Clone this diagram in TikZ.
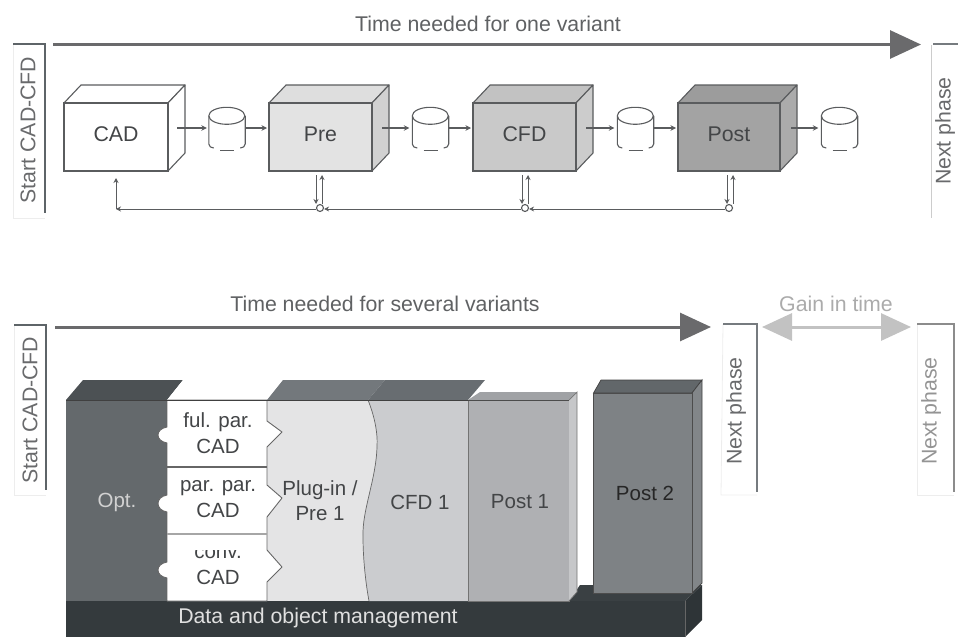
\documentclass[tikz,border=0pt]{standalone}
\usepackage{fontspec}
\setmainfont{Liberation Sans}
\usetikzlibrary{arrows.meta}
\definecolor{txt}{HTML}{434547}
\definecolor{bracket}{HTML}{5E6468}
\definecolor{headgray}{HTML}{6A6A6C}
\definecolor{faint}{HTML}{EDEDED}
\definecolor{edge}{HTML}{5A5C5E}
\tikzset{
  lbl/.style={font=\fontsize{21.3}{24}\selectfont,text=txt,inner sep=0pt,align=center},
  blk/.style={lbl,font=\fontsize{20.5}{24}\selectfont},
  front/.style={draw=edge,line width=1.3pt,minimum height=68pt,inner sep=0pt,lbl},
  face/.style={draw=edge,line width=1.1pt,line join=round},
  flow/.style={draw=edge,line width=1.2pt,-{Stealth[length=5.5pt,width=5.5pt]}},
  back/.style={draw=edge,line width=1pt,-{Stealth[length=5pt,width=5pt]}},
  dot/.style={circle,draw=edge,line width=1.1pt,fill=white,minimum size=7pt,inner sep=0pt},
  cylnode/.style={minimum width=36pt,minimum height=42pt,inner sep=0pt},
  cylline/.style={edge,line width=1.1pt},
  big/.style={line width=3pt,-{Triangle[length=31pt,width=28pt]}}
}
\newcommand{\cylshape}[2]{%
  \node[cylnode] (#1) at (#2,129) {};
  \draw[cylline] ([yshift=-8pt]#1.north west) arc[start angle=180,end angle=-180,x radius=18pt,y radius=8.5pt];
  \draw[cylline] ([yshift=-8pt]#1.north west) -- (#1.west |- 0,144) to[out=-90,in=180] ([xshift=5pt]#1.west |- 0,148);
  \draw[cylline] ([yshift=-8pt]#1.north east) -- (#1.east |- 0,144) to[out=-90,in=0] ([xshift=-5pt]#1.east |- 0,148);
  \draw[cylline] ([xshift=-7pt]#1.south) -- ([xshift=7pt]#1.south);
}
\newcommand{\boxshape}[7]{% name, x-left, x-right, label, front, top, side
  \path[face,fill=#6] (#2,103) -- (#2+17,85) -- (#3+17,85) -- (#3,103) -- cycle;
  \path[face,fill=#7] (#3,103) -- (#3+17,85) -- (#3+17,153) -- (#3,171) -- cycle;
  \node[front,fill=#5,minimum width=#3pt-#2pt] (#1) at ({(#2+#3)/2},137) {\raisebox{5pt}{\vphantom{Cp}#4}};
}
\begin{document}
\begin{tikzpicture}[x=1pt,y=-1pt]
\useasboundingbox (0,0) rectangle (958,637);

% ---------- upper part ----------
\node[lbl,text=txt!85] (t1) at (488,24) {Time needed for one variant};
\coordinate (a1s) at (53,44.5);
\coordinate (a1e) at (921,44.5);
\draw[big,draw=bracket!85!black,color=headgray] (a1s) -- (a1e);

\coordinate (s1a) at (13,44);
\coordinate (s1b) at (45,44);
\coordinate (s1c) at (45,213);
\coordinate (s1d) at (45,218);
\coordinate (s1e) at (13,218);
\draw[faint,line width=.8pt] (s1a) -- (s1e) -- (s1d);
\draw[bracket,line width=2.2pt] (s1a) -- (s1b) -- (s1c);
\node[lbl,rotate=90,text=txt!80] (s1t) at (28,130) {Start CAD-CFD};

\coordinate (n1a) at (933,44);
\coordinate (n1b) at (958,44);
\coordinate (n1c) at (931,45);
\coordinate (n1d) at (931,218);
\draw[bracket!85,line width=2pt] (n1a) -- (n1b);
\draw[black!20,line width=.8pt] (n1c) -- (n1d);
\node[lbl,rotate=90,text=txt!80] (n1t) at (945,131) {Next phase};

\boxshape{cad}{64}{168}{CAD}{white}{white}{white}
\boxshape{pre}{269}{372}{Pre}{black!11}{black!13}{black!18}
\boxshape{cfd}{473}{576}{CFD}{black!21}{black!24}{black!20}
\boxshape{post}{678}{780}{Post}{black!36}{black!39}{black!33}

\cylshape{c1}{227}
\cylshape{c2}{430.5}
\cylshape{c3}{635.5}
\cylshape{c4}{839.5}

\coordinate (o1) at (177,128);
\coordinate (o2) at (382,128);
\coordinate (o3) at (586,128);
\coordinate (o4) at (791,128);
\coordinate (i2) at (267,128);
\coordinate (i3) at (471,128);
\coordinate (i4) at (676,128);
\draw[flow,shorten >=2pt] (o1) -- (c1.west |- o1);
\draw[flow] (c1.east |- o1) -- (i2);
\draw[flow,shorten >=3pt] (o2) -- (c2.west |- o2);
\draw[flow] (c2.east |- o2) -- (i3);
\draw[flow,shorten >=3pt] (o3) -- (c3.west |- o3);
\draw[flow] (c3.east |- o3) -- (i4);
\draw[flow,shorten >=3pt] (o4) -- (c4.west |- o4);

% feedback
\node[dot] (d1) at (320,208) {};
\node[dot] (d2) at (525,208) {};
\node[dot] (d3) at (729,208) {};
\coordinate (fb) at (116,209);
\coordinate (fbu) at (116,178);
\draw[back] (d1.west |- fb) -- (fb);
\draw[back] (fb) -- (fbu);
\draw[back] (d2.west |- fb) -- (d1.east |- fb);
\draw[back] (d3.west |- fb) -- (d2.east |- fb);
\foreach \d/\xa/\xb in {d1/316/322,d2/522/528,d3/727/733}{
  \coordinate (top\d a) at (\xa,175);
  \coordinate (bot\d a) at (\xa,204);
  \coordinate (top\d b) at (\xb,175);
  \coordinate (bot\d b) at (\xb,204);
  \draw[back] (top\d a) -- (bot\d a);
  \draw[back] (bot\d b) -- (top\d b);
}

% ---------- lower part ----------
\node[lbl,text=txt!85] (t2) at (385,304) {Time needed for several variants};
\coordinate (a2s) at (55,327);
\coordinate (a2e) at (711,327);
\draw[big,draw=bracket!85!black,color=headgray] (a2s) -- (a2e);

\coordinate (s2a) at (14,325);
\coordinate (s2b) at (46,325);
\coordinate (s2c) at (46,490);
\coordinate (s2d) at (46,495);
\coordinate (s2e) at (14,495);
\draw[faint,line width=.8pt] (s2a) -- (s2e) -- (s2d);
\draw[bracket,line width=2.2pt] (s2a) -- (s2b) -- (s2c);
\node[lbl,rotate=90,text=txt!80] (s2t) at (30,410) {Start CAD-CFD};

\coordinate (n2a) at (723,324);
\coordinate (n2b) at (757,324);
\coordinate (n2c) at (757,492);
\coordinate (n2d) at (757,495);
\coordinate (n2e) at (721,495);
\draw[faint,line width=.8pt] (n2a) -- (n2e) -- (n2d);
\draw[bracket!85,line width=2.2pt] (n2a) -- (n2b) -- (n2c);
\node[lbl,rotate=90,text=txt!80] (n2t) at (736,411) {Next phase};

\node[lbl,text=black!33] (g) at (836,304) {Gain in time};
\coordinate (g1) at (762,327);
\coordinate (g2) at (911,327);
\draw[line width=3pt,draw=black!22,color=black!24,{Triangle[length=30pt,width=27pt]}-{Triangle[length=30pt,width=27pt]}] (g1) -- (g2);

\coordinate (n3a) at (917,324);
\coordinate (n3b) at (954,324);
\coordinate (n3c) at (954,492);
\coordinate (n3d) at (954,495);
\coordinate (n3e) at (917,495);
\draw[faint,line width=.8pt] (n3a) -- (n3e) -- (n3d);
\draw[black!45,line width=2.2pt] (n3a) -- (n3b) -- (n3c);
\node[lbl,rotate=90,text=black!42] (n3t) at (931,411) {Next phase};

% base
\fill[fill={rgb,255:red,58;green,64;blue,67}] (569,601) -- (580,585) -- (702,585) -- (685,601) -- cycle;
\fill[fill={rgb,255:red,46;green,52;blue,55}] (685,601) -- (702,585) -- (702,620) -- (685,637) -- cycle;
\fill[fill={rgb,255:red,52;green,58;blue,61}] (66,601) rectangle (685,637);
\draw[black!60,line width=.7pt] (685,601) -- (685,637);
\node[lbl,text=black!12] (dm) at (318,618) {Data and object management};

% Post 2
\path[fill={rgb,255:red,98;green,103;blue,106},draw=black!75,line width=.7pt] (593.5,393) -- (601,380) -- (702,380) -- (692,393) -- cycle;
\path[fill={rgb,255:red,130;green,134;blue,137},draw=black!75,line width=.7pt] (692,393) -- (702,380) -- (702,583) -- (692,593) -- cycle;
\node[draw=black!70,line width=1pt,fill={rgb,255:red,126;green,130;blue,133},minimum width=98.5pt,minimum height=200pt,inner sep=0pt] (p2) at (642.75,493) {};
\node[blk,text=black!85] (p2t) at (645,493) {Post 2};

% top faces
\fill[fill={rgb,255:red,76;green,81;blue,84}] (66,400) -- (83,380) -- (183,380) -- (167,400) -- cycle;
\fill[white] (167,400) -- (183,380) -- (283,380) -- (267,400) -- cycle;
\fill[fill={rgb,255:red,115;green,120;blue,124}] (267,400) -- (283,380) -- (385,380) -- (368,400) -- cycle;
\fill[fill={rgb,255:red,104;green,109;blue,113}] (368,400) -- (385,380) -- (485,380) -- (468,400) -- cycle;
\path[fill={rgb,255:red,160;green,162;blue,165}] (468,400) -- (480,392) -- (577,392) -- (569,400) -- cycle;

% columns
\fill[fill={rgb,255:red,100;green,105;blue,108}] (66,400) rectangle (167,601);
\fill[fill={rgb,255:red,228;green,228;blue,229}] (267,400) rectangle (380,601);
\path[fill={rgb,255:red,203;green,204;blue,207}] (368,400) .. controls (374,415) and (378,432) .. (377,447) .. controls (376,480) and (362,510) .. (363,537) .. controls (363,560) and (366,585) .. (369,601) -- (468,601) -- (468,400) -- cycle;
\draw[black!60,line width=.7pt] (368,400) .. controls (374,415) and (378,432) .. (377,447) .. controls (376,480) and (362,510) .. (363,537) .. controls (363,560) and (366,585) .. (369,601);
\path[fill={rgb,255:red,175;green,176;blue,179},draw=black!55,line width=.8pt] (468,400) rectangle (569,601);
\fill[fill={rgb,255:red,198;green,199;blue,201}] (569,400) -- (577,392) -- (577,592) -- (569,601) -- cycle;
\draw[black!55,line width=.7pt] (569,400) -- (577,392) -- (577,592) -- (569,601);

% CAD variants
\path[fill=white,draw=black!60,line width=.9pt,line join=round]
  (167,400) -- (267,400) -- (267,421) -- (282,432) -- (267,447) -- (267,485) -- (282,498) -- (267,517)
  -- (267,550) -- (282,567) -- (267,582) -- (267,601) -- (167,601) -- (167,578)
  .. controls (155,576) and (155,564) .. (167,562) -- (167,512)
  .. controls (155,510) and (155,497) .. (167,495) -- (167,443)
  .. controls (155,441) and (155,429) .. (167,427) -- cycle;
\draw[black!60,line width=1.2pt] (167,467) -- (267,467);
\draw[black!35,line width=1.2pt] (167,534) -- (267,534);
\draw[black!75,line width=1pt] (66,400) -- (468,400);
\draw[black!70,line width=.9pt] (468,400) -- (569,400);

% labels
\node[blk,text=black!18] (opt) at (117,502) {Opt.};
\node[blk] (v1a) at (218,422) {ful. par.};
\node[blk] (v1b) at (218,446) {CAD};
\node[blk] (v2a) at (218,488) {par. par.};
\node[blk] (v2b) at (218,510) {CAD};
\begin{scope}
  \clip (170,550.5) rectangle (265,570);
  \node[blk] (v3a) at (218,553) {conv.};
\end{scope}
\node[blk] (v3b) at (218,577) {CAD};
\node[blk] (plug) at (320,490) {Plug-in /};
\node[blk] (pre1) at (320,514) {Pre 1};
\node[blk] (cfd1) at (420,502) {CFD 1};
\node[blk] (post1) at (520,502) {Post 1};
\end{tikzpicture}
\end{document}
